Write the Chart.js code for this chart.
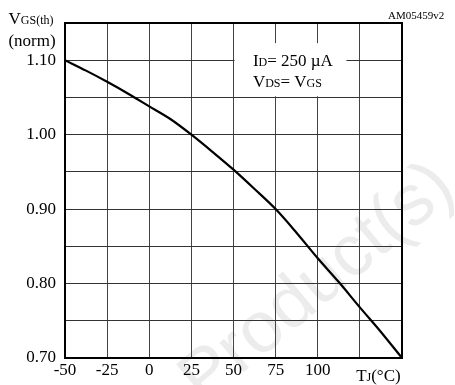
<!DOCTYPE html>
<html>
<head>
<meta charset="utf-8">
<script src="https://cdn.jsdelivr.net/npm/chart.js@4.4.1/dist/chart.umd.min.js"></script>
<style>
  html, body { margin: 0; padding: 0; background: #fff; }
  #wrap { width: 455px; height: 385px; position: relative; }
</style>
</head>
<body>
<div id="wrap"><canvas id="chart" width="455" height="385"></canvas></div>
<script>
// Tj (°C) vs normalized gate threshold voltage
const temps = [-50, -37.5, -25, -12.5, 0, 12.5, 25, 37.5, 50, 62.5, 75, 87.5, 100, 112.5, 125, 137.5, 150];
const vgsNorm = [1.100, 1.086, 1.071, 1.055, 1.038, 1.021, 1.000, 0.977, 0.953, 0.927, 0.900, 0.868, 0.834, 0.802, 0.768, 0.735, 0.700];

const xTicks = [-50, -25, 0, 25, 50, 75, 100, 125, 150];
const xLabels = ["-50", "-25", "0", "25", "50", "75", "100", "", ""];
const yLabelled = [0.70, 0.80, 0.90, 1.00, 1.10];

const SERIF = "'Liberation Serif', 'Times New Roman', serif";

// draws a run of [text, fontSize] pieces on one baseline
function richText(ctx, parts, x, y, align){
  let w = 0;
  parts.forEach(p => { ctx.font = `${p[1]}px ${SERIF}`; w += ctx.measureText(p[0]).width; });
  let cx = align === "center" ? x - w / 2 : x;
  ctx.textAlign = "left";
  ctx.textBaseline = "alphabetic";
  parts.forEach(p => {
    ctx.font = `${p[1]}px ${SERIF}`;
    ctx.fillText(p[0], cx, y);
    cx += ctx.measureText(p[0]).width;
  });
}

const watermark = {
  id: "watermark",
  beforeDraw(chart){
    const ctx = chart.ctx;
    ctx.save();
    ctx.translate(318, 284);
    ctx.rotate(-40 * Math.PI / 180);
    ctx.font = "72px 'Liberation Sans', Arial, sans-serif";
    ctx.fillStyle = "#ececec";
    ctx.textAlign = "center";
    ctx.textBaseline = "middle";
    ctx.fillText("Product(s)", 0, 0);
    ctx.restore();
  }
};

const annotations = {
  id: "annotations",
  beforeDatasetsDraw(chart){
    const ctx = chart.ctx;
    const xs = chart.scales.x, ys = chart.scales.y;

    // white box behind the test conditions
    const bx0 = xs.getPixelForValue(50.6), bx1 = xs.getPixelForValue(117);
    const by0 = ys.getPixelForValue(1.123), by1 = ys.getPixelForValue(1.0515);
    ctx.save();
    ctx.fillStyle = "#fff";
    ctx.fillRect(bx0, by0, bx1 - bx0, by1 - by0);

    ctx.fillStyle = "#000";
    const tx = xs.getPixelForValue(61.5);
    richText(ctx, [["I", 17], ["D", 12], ["= 250 \u00b5A", 17]], tx, ys.getPixelForValue(1.1) + 6);
    richText(ctx, [["V", 17], ["DS", 12], ["= V", 17], ["GS", 12]], tx, ys.getPixelForValue(1.072) + 6);
    ctx.restore();
  },
  afterDraw(chart){
    const ctx = chart.ctx;
    const a = chart.chartArea;
    const xs = chart.scales.x;
    ctx.save();
    // heavy frame
    ctx.strokeStyle = "#000";
    ctx.lineWidth = 2;
    ctx.strokeRect(a.left, a.top, a.right - a.left, a.bottom - a.top);

    ctx.fillStyle = "#000";
    richText(ctx, [["V", 17], ["GS(th)", 12]], 31, 24, "center");
    richText(ctx, [["(norm)", 17]], 32, 46, "center");
    richText(ctx, [["AM05459v2", 11]], 388, 19);
    richText(ctx, [["T", 17], ["J", 12], ["(\u00b0C)", 17]], xs.getPixelForValue(136), a.bottom + 23, "center");
    ctx.restore();
  }
};

new Chart(document.getElementById("chart"), {
  type: "line",
  data: {
    datasets: [{
      data: temps.map((t, i) => ({ x: t, y: vgsNorm[i] })),
      borderColor: "#000",
      borderWidth: 2.2,
      pointRadius: 0,
      cubicInterpolationMode: "monotone",
      fill: false
    }]
  },
  options: {
    responsive: false,
    animation: false,
    events: [],
    layout: { padding: { top: 23, right: 53, left: 0, bottom: 0 } },
    plugins: { legend: { display: false }, tooltip: { enabled: false } },
    scales: {
      x: {
        type: "linear",
        min: -50, max: 150,
        afterBuildTicks: s => { s.ticks = xTicks.map(v => ({ value: v })); },
        afterFit: s => { s.height = 27; },
        ticks: {
          color: "#000",
          font: { family: SERIF, size: 17 },
          padding: 2,
          maxRotation: 0,
          autoSkip: false,
          callback: v => xLabels[xTicks.indexOf(v)] ?? ""
        },
        grid: { color: "#444", lineWidth: 1, drawTicks: false },
        border: { display: true, color: "#000", width: 2 }
      },
      y: {
        min: 0.70, max: 1.15,
        ticks: {
          stepSize: 0.05,
          color: "#000",
          font: { family: SERIF, size: 17 },
          padding: 9,
          callback: v => yLabelled.some(l => Math.abs(l - v) < 1e-6) ? v.toFixed(2) : ""
        },
        afterFit: s => { s.width = 65; },
        grid: { color: "#333", lineWidth: 1, drawTicks: false },
        border: { display: true, color: "#000", width: 2 }
      }
    }
  },
  plugins: [watermark, annotations]
});
</script>
</body>
</html>
